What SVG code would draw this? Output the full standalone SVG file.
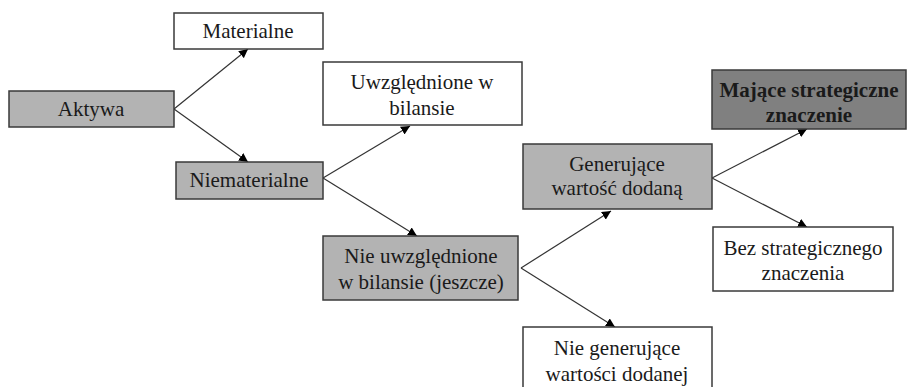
<svg xmlns="http://www.w3.org/2000/svg" width="908" height="387" viewBox="0 0 908 387">
<defs>
<style>
.box{stroke:#3a3a3a;stroke-width:1.5}
.w{fill:#ffffff}
.g{fill:#b3b3b3}
.d{fill:#808080}
.t{font-family:"Liberation Serif","Times New Roman",serif;font-size:21px;fill:#1a1a1a;text-anchor:middle}
.b{font-weight:bold}
.c{stroke:#333;stroke-width:1.2;fill:none;marker-end:url(#ah)}
</style>
<marker id="ah" viewBox="0 0 10 10" refX="10" refY="5" markerWidth="9" markerHeight="9" markerUnits="userSpaceOnUse" orient="auto">
<path d="M0,0 L10,5 L0,10 z" fill="#000"/>
</marker>
</defs>
<rect width="908" height="387" fill="#ffffff"/>
<g id="connectors">
<line class="c" x1="174" y1="109" x2="248" y2="49"/>
<line class="c" x1="174" y1="109" x2="248" y2="162"/>
<line class="c" x1="323" y1="178" x2="410" y2="126"/>
<line class="c" x1="323" y1="178" x2="417" y2="236"/>
<line class="c" x1="521" y1="268" x2="611" y2="211"/>
<line class="c" x1="521" y1="268" x2="615" y2="327"/>
<line class="c" x1="712" y1="178" x2="807" y2="129"/>
<line class="c" x1="712" y1="178" x2="807" y2="227"/>
</g>
<g id="nodes" font-family="Liberation Serif">
<g id="aktywa">
<rect class="box g" x="9" y="91" width="165" height="36"/>
<text class="t" x="91" y="116">Aktywa</text>
</g>
<g id="materialne">
<rect class="box w" x="174" y="13" width="149" height="36"/>
<text class="t" x="248" y="38">Materialne</text>
</g>
<g id="niematerialne">
<rect class="box g" x="176" y="162" width="147" height="37"/>
<text class="t" x="249" y="187">Niematerialne</text>
</g>
<g id="uwzglednione">
<rect class="box w" x="323" y="62" width="199" height="63"/>
<text class="t" x="422" y="89">Uwzględnione w</text>
<text class="t" x="422" y="115">bilansie</text>
</g>
<g id="nie-uwzglednione">
<rect class="box g" x="323" y="236" width="195" height="64"/>
<text class="t" x="421" y="263">Nie uwzględnione</text>
<text class="t" x="421" y="289">w bilansie (jeszcze)</text>
</g>
<g id="generujace">
<rect class="box g" x="523" y="144" width="189" height="65"/>
<text class="t" x="617" y="171">Generujące</text>
<text class="t" x="617" y="195">wartość dodaną</text>
</g>
<g id="nie-generujace">
<rect class="box w" x="523" y="327" width="189" height="70"/>
<text class="t" x="617" y="355">Nie generujące</text>
<text class="t" x="617" y="381">wartości dodanej</text>
</g>
<g id="majace">
<rect class="box d" x="712" y="70" width="194" height="59"/>
<text class="t b" x="809" y="97">Mające strategiczne</text>
<text class="t b" x="809" y="122">znaczenie</text>
</g>
<g id="bez">
<rect class="box w" x="713" y="227" width="180" height="64"/>
<text class="t" x="803" y="255">Bez strategicznego</text>
<text class="t" x="803" y="280">znaczenia</text>
</g>
</g>
</svg>
